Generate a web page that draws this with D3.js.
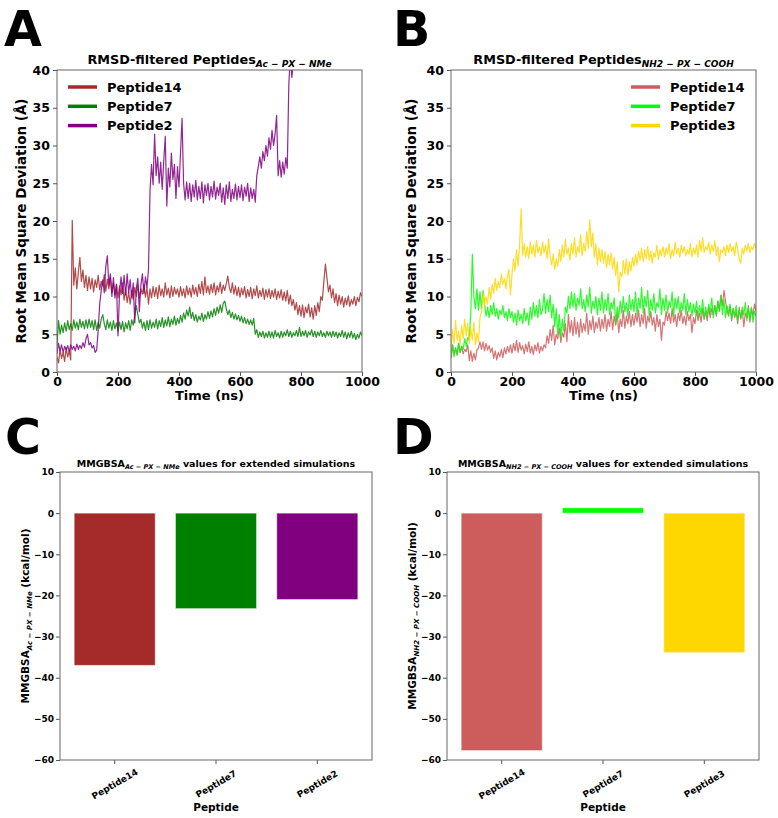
<!DOCTYPE html>
<html>
<head>
<meta charset="utf-8">
<script src="https://cdn.jsdelivr.net/npm/d3@7"></script>
<style>
body { margin: 0; background: #fff; }
text { font-family: "DejaVu Sans", sans-serif; font-weight: bold; fill: #000; }
</style>
</head>
<body>
<svg id="fig" width="778" height="818"></svg>
<script>
// ---- values ----
var timeStep = 5; // ns between kept frames, series start at 0 ns
var timeTicks = [0, 200, 400, 600, 800, 1000];
var rmsdTicks = [0, 5, 10, 15, 20, 25, 30, 35, 40];
var energyTicks = [10, 0, -10, -20, -30, -40, -50, -60];

// panel A (Ac-PX-NMe)
var rmsdA14 = [
  2.0, 1.2, 3.0, 1.8, 2.6, 1.4, 3.2, 2.0, 2.8, 1.6, 20.1, 11.5, 13.8, 11.0, 13.2, 15.2, 12.0, 13.5, 11.2, 12.8,
  10.8, 12.6, 11.0, 12.4, 10.6, 12.2, 11.2, 12.8, 10.9, 12.0, 11.4, 12.9, 10.7, 12.3, 11.0, 12.5, 10.5, 11.8, 10.2, 11.6,
  9.8, 11.4, 10.2, 11.8, 9.5, 11.0, 9.2, 10.6, 9.0, 10.8, 9.6, 11.2, 10.0, 11.5, 9.8, 11.0, 10.3, 11.6, 9.9, 11.2,
  9.0, 11.0, 9.8, 11.3, 10.0, 11.2, 9.7, 11.5, 10.1, 11.0, 9.9, 11.8, 10.2, 11.1, 9.8, 11.4, 10.0, 11.2, 10.3, 11.0,
  9.9, 11.3, 10.1, 11.0, 9.8, 11.4, 10.2, 11.1, 9.9, 11.5, 10.3, 11.2, 10.0, 11.6, 10.4, 12.0, 10.2, 12.6, 10.5, 11.4,
  10.3, 11.6, 10.5, 11.8, 10.2, 11.4, 10.6, 11.9, 10.4, 11.5, 10.8, 11.7, 12.7, 11.2, 10.5, 11.8, 10.3, 11.4, 10.1, 11.2,
  9.9, 11.1, 10.2, 11.3, 9.8, 10.9, 10.0, 11.2, 9.7, 11.0, 10.1, 11.4, 9.8, 10.8, 10.0, 11.1, 9.6, 10.9, 9.9, 11.0,
  9.7, 10.8, 9.9, 11.0, 9.6, 10.7, 9.8, 10.9, 9.5, 10.6, 9.4, 10.8, 9.0, 10.2, 8.8, 9.6, 8.2, 9.2, 7.6, 8.8,
  7.4, 8.9, 7.2, 8.6, 7.8, 9.0, 7.3, 8.5, 7.0, 8.8, 7.5, 9.2, 8.0, 10.0, 9.5, 12.0, 14.3, 12.5, 10.6, 11.5,
  9.8, 11.0, 9.2, 10.4, 8.8, 10.2, 9.0, 10.0, 8.6, 9.8, 8.9, 10.1, 8.7, 9.6, 9.0, 10.0, 8.8, 9.9, 9.3, 10.5, 10.0
];
var rmsdA7 = [
  3.5, 6.8, 5.0, 6.2, 5.2, 6.5, 5.4, 6.8, 5.6, 6.4, 5.5, 6.9, 5.8, 6.6, 5.6, 7.0, 5.9, 6.7, 5.7, 6.9,
  5.8, 7.0, 5.9, 6.8, 5.6, 6.9, 5.5, 6.6, 5.8, 7.0, 7.6, 6.4, 5.6, 6.9, 5.8, 6.6, 5.5, 6.8, 5.7, 6.5,
  5.4, 6.6, 5.6, 6.7, 5.3, 6.5, 5.7, 6.8, 5.5, 6.9, 6.2, 7.5, 8.8, 7.6, 6.5, 7.0, 5.8, 6.6, 5.5, 6.8,
  5.6, 6.9, 5.8, 6.6, 5.9, 7.0, 5.7, 6.8, 6.0, 7.2, 5.9, 6.9, 6.1, 7.3, 6.0, 7.0, 6.3, 7.4, 6.2, 7.1,
  6.4, 7.5, 6.6, 7.8, 7.0, 8.2, 7.4, 8.6, 7.1, 7.9, 6.8, 7.6, 6.6, 7.4, 6.9, 7.8, 6.7, 7.6, 7.0, 8.0,
  7.1, 8.1, 7.3, 8.4, 7.5, 8.6, 7.8, 8.9, 7.9, 9.1, 9.4, 8.4, 7.6, 8.2, 7.2, 7.9, 7.0, 7.7, 6.9, 7.5,
  6.7, 7.4, 6.5, 7.2, 6.4, 7.0, 6.3, 6.9, 6.2, 7.1, 5.0, 5.6, 4.6, 5.3, 4.7, 5.4, 4.5, 5.2, 4.6, 5.4,
  4.6, 5.3, 4.5, 5.5, 4.7, 5.2, 4.5, 5.4, 4.6, 5.3, 4.8, 5.6, 4.7, 5.4, 4.6, 5.2, 4.8, 5.5, 4.7, 5.9,
  4.7, 5.4, 4.8, 5.5, 4.6, 5.3, 4.9, 5.6, 4.7, 5.4, 4.6, 5.3, 4.8, 5.5, 4.7, 5.2, 4.6, 5.4, 4.8, 5.3,
  4.6, 5.4, 4.7, 5.3, 4.5, 5.2, 4.7, 5.5, 4.6, 5.3, 4.4, 5.2, 4.6, 5.4, 4.5, 5.1, 4.3, 5.0, 4.5, 5.3, 4.8
];
// Peptide2 trace stops at ~775 ns after leaving the top of the axis
var rmsdA2 = [
  2.4, 3.8, 2.8, 3.6, 2.6, 3.4, 2.9, 3.5, 2.7, 3.6, 3.0, 3.4, 2.8, 3.7, 3.0, 3.5, 3.1, 3.9, 3.3, 4.4,
  5.0, 3.6, 3.9, 3.2, 3.5, 2.6, 2.9, 5.5, 9.0, 10.8, 12.2, 10.5, 14.0, 15.4, 11.5, 13.0, 10.0, 12.5, 9.8, 11.6,
  4.8, 10.5, 12.6, 10.4, 12.8, 10.2, 13.0, 10.5, 12.2, 9.8, 11.8, 6.5, 11.0, 12.4, 8.0, 11.5, 13.0, 10.4, 12.6, 11.2,
  13.6, 24.0, 27.5, 24.8, 31.5, 26.0, 28.5, 25.0, 27.8, 24.2, 28.0, 31.2, 22.0, 27.0, 24.5, 29.0, 25.5, 27.5, 23.0, 27.2,
  24.5, 29.0, 33.6, 25.0, 22.8, 25.2, 23.0, 25.0, 22.6, 24.8, 23.2, 25.4, 22.8, 24.6, 23.0, 25.2, 22.4, 24.8, 23.4, 25.0,
  22.8, 24.6, 23.2, 25.3, 22.9, 24.5, 23.4, 25.0, 22.5, 24.4, 22.2, 24.8, 23.0, 25.2, 22.6, 24.2, 23.0, 24.9, 22.8, 24.6,
  23.1, 24.8, 22.7, 24.5, 23.3, 25.0, 22.6, 24.4, 23.0, 24.2, 22.5, 26.0, 27.2, 28.5, 27.0, 29.2, 28.0, 30.0, 28.6, 31.0,
  29.5, 32.0, 30.0, 31.5, 34.0, 26.0, 28.0, 25.8, 27.8, 26.2, 28.4, 27.0, 38.0, 42.0, 39.0, 41.0
];

// panel B (NH2-PX-COOH)
var rmsdB14 = [
  1.8, 3.6, 2.4, 3.2, 2.2, 3.8, 2.6, 3.4, 2.4, 3.0, 2.7, 3.6, 1.5, 2.8, 1.4, 2.5, 1.6, 2.9, 3.2, 4.0,
  3.0, 4.0, 2.8, 3.8, 2.9, 3.5, 2.6, 3.2, 1.8, 2.8, 1.6, 2.6, 2.0, 3.0, 1.9, 3.2, 2.4, 3.4, 2.6, 3.6,
  2.5, 3.8, 2.8, 4.2, 2.6, 3.9, 2.9, 3.5, 2.4, 3.7, 2.7, 4.0, 2.5, 3.4, 2.3, 3.6, 2.8, 3.9, 2.5, 3.4,
  2.8, 3.6, 3.2, 4.8, 3.8, 5.6, 4.2, 6.2, 3.6, 5.0, 4.4, 5.8, 3.9, 5.2, 4.6, 6.4, 4.0, 7.6, 5.2, 6.8,
  4.8, 7.2, 5.0, 6.6, 4.6, 7.0, 5.2, 6.4, 5.4, 7.8, 5.0, 6.8, 5.6, 7.4, 5.2, 6.6, 5.8, 7.2, 5.4, 7.0,
  5.8, 7.6, 5.4, 7.0, 6.0, 8.0, 5.6, 7.4, 6.2, 7.8, 5.2, 7.0, 6.0, 8.2, 5.8, 7.4, 6.4, 8.0, 6.0, 7.6,
  6.2, 7.8, 6.6, 8.2, 6.0, 7.6, 6.4, 8.4, 5.8, 7.4, 6.6, 8.0, 6.2, 7.2, 5.4, 7.6, 6.0, 7.0, 4.2, 6.6,
  6.2, 8.0, 6.8, 7.8, 6.4, 8.4, 6.6, 7.6, 6.0, 7.8, 6.8, 8.2, 6.4, 7.4, 6.2, 8.0, 6.8, 7.6, 5.2, 7.2,
  6.4, 8.2, 6.8, 7.8, 6.6, 8.4, 7.0, 8.0, 6.8, 8.6, 7.2, 8.4, 7.6, 8.8, 7.4, 9.4, 8.2, 10.2, 8.8, 10.8,
  9.4, 8.2, 7.4, 8.8, 6.8, 8.4, 7.2, 8.0, 6.4, 8.6, 7.0, 8.2, 6.0, 7.8, 7.2, 8.8, 6.6, 8.4, 7.4, 9.0, 8.0
];
var rmsdB7 = [
  2.2, 3.6, 2.0, 3.2, 2.4, 3.8, 2.6, 3.4, 3.0, 4.4, 3.4, 4.6, 4.2, 8.0, 15.6, 10.0, 8.4, 11.0, 8.2, 10.6,
  8.4, 10.8, 9.0, 7.4, 8.6, 7.2, 8.8, 7.6, 9.2, 7.4, 8.4, 7.0, 8.2, 7.6, 8.8, 7.2, 8.0, 6.8, 8.4, 7.2,
  8.0, 6.6, 7.8, 6.2, 8.2, 6.8, 7.6, 6.4, 8.4, 6.8, 7.8, 6.2, 8.6, 7.0, 9.2, 7.4, 8.8, 7.2, 9.6, 7.6,
  8.2, 10.4, 7.8, 9.6, 8.0, 10.2, 7.2, 9.0, 6.0, 8.4, 5.0, 7.6, 4.6, 7.0, 5.4, 8.6, 7.8, 10.0, 8.4, 10.6,
  8.6, 10.4, 8.2, 9.8, 8.8, 11.0, 8.4, 9.6, 8.0, 10.2, 8.6, 11.2, 7.8, 9.4, 8.4, 10.0, 7.6, 9.8, 8.2, 10.6,
  7.8, 9.6, 8.2, 10.4, 7.6, 9.2, 8.4, 9.8, 6.4, 8.6, 7.2, 9.4, 7.8, 10.0, 8.0, 9.2, 7.4, 10.2, 8.2, 9.6,
  8.0, 10.6, 7.6, 9.8, 8.4, 11.2, 7.8, 10.0, 8.6, 10.8, 7.4, 9.6, 8.2, 10.4, 7.8, 9.2, 8.6, 11.0, 7.6, 9.8,
  8.2, 10.2, 7.8, 9.4, 8.6, 10.6, 7.4, 9.8, 8.4, 10.0, 7.8, 9.2, 8.2, 10.4, 7.6, 9.6, 8.0, 9.2, 7.4, 9.0,
  7.8, 9.4, 7.2, 8.8, 7.6, 9.6, 7.0, 8.6, 7.4, 9.0, 7.8, 9.8, 7.2, 8.8, 7.6, 9.4, 8.0, 10.2, 7.6, 9.6,
  7.2, 8.8, 7.6, 9.0, 7.0, 8.4, 7.4, 8.8, 6.8, 8.2, 7.2, 8.6, 7.6, 9.2, 6.8, 8.4, 7.0, 8.6, 6.6, 8.0, 7.4
];
var rmsdB3 = [
  3.2, 5.6, 3.8, 6.8, 4.2, 5.4, 3.6, 6.2, 4.4, 7.0, 4.8, 6.4, 3.8, 5.8, 4.2, 6.6, 3.6, 5.2, 4.0, 7.2,
  8.0, 10.4, 8.8, 10.0, 9.0, 11.2, 9.6, 11.6, 10.4, 12.4, 10.8, 12.0, 11.2, 13.0, 11.6, 12.4, 11.0, 12.8, 13.6, 10.2,
  13.0, 15.0, 13.4, 16.2, 14.0, 16.8, 21.6, 15.4, 17.0, 15.2, 16.6, 15.0, 17.2, 15.6, 16.8, 15.2, 17.4, 15.8, 16.6, 15.4,
  17.2, 15.8, 16.8, 15.0, 17.6, 15.4, 14.2, 15.6, 13.6, 15.0, 14.0, 16.2, 14.6, 16.8, 15.2, 17.6, 15.6, 16.4, 14.8, 17.0,
  15.6, 17.8, 15.2, 16.6, 15.8, 18.2, 15.4, 17.0, 16.0, 18.6, 16.4, 20.2, 16.6, 18.4, 15.2, 17.0, 14.2, 16.4, 14.6, 16.2,
  14.4, 16.0, 13.8, 15.6, 14.2, 15.8, 13.6, 15.2, 12.8, 14.6, 10.6, 13.2, 12.6, 14.8, 13.0, 15.0, 12.8, 14.6, 13.4, 15.2,
  14.0, 15.6, 14.2, 16.0, 14.8, 16.4, 14.6, 16.2, 15.0, 16.6, 14.8, 16.0, 14.4, 15.8, 15.2, 16.8, 14.9, 16.2, 15.4, 16.6,
  15.2, 16.4, 15.6, 17.0, 15.0, 16.2, 15.4, 17.2, 15.6, 16.4, 15.2, 16.8, 15.8, 16.6, 15.4, 16.2, 15.6, 17.0, 15.2, 16.4,
  15.6, 16.8, 15.2, 17.4, 16.0, 17.8, 15.8, 16.6, 16.2, 17.2, 15.6, 16.8, 16.0, 17.4, 15.4, 16.6, 14.6, 16.2, 15.8, 16.6,
  15.4, 16.8, 15.8, 17.0, 16.0, 16.6, 15.4, 17.2, 16.2, 15.0, 14.4, 16.4, 15.6, 16.8, 16.0, 17.0, 15.8, 16.6, 16.2, 17.0, 16.4
];

// panels C and D (kcal/mol)
var peptidesC = ["Peptide14", "Peptide7", "Peptide2"];
var mmgbsaC = [-37.0, -23.2, -21.0];
var peptidesD = ["Peptide14", "Peptide7", "Peptide3"];
var mmgbsaD = [-57.7, 1.3, -33.9];

var coloursA = ["#a52a2a", "#008000", "#800080"];
var coloursB = ["#cd5c5c", "#00ff00", "#ffd700"];

var svg = d3.select("#fig");

// big panel letters
[["A", 4, 46], ["B", 393, 46], ["C", 5, 454], ["D", 393, 454]].forEach(function(p) {
  svg.append("text").attr("x", p[1]).attr("y", p[2])
    .style("font-size", "49px").text(p[0]);
});

// text with a small italic subscript in the middle
function subText(sel, before, sub, after, size, subSize) {
  sel.append("tspan").style("font-size", size + "px").text(before);
  sel.append("tspan").style("font-size", subSize + "px").style("font-style", "italic")
    .attr("dy", size * 0.25).text(sub);
  if (after) {
    sel.append("tspan").style("font-size", size + "px").attr("dy", -size * 0.25).text(after);
  }
}

function drawRmsd(box, titleSub, series, names, colours, legendX, ylabX) {
  var x = d3.scaleLinear().domain([0, 1000]).range([box.x0, box.x1]);
  var y = d3.scaleLinear().domain([0, 40]).range([box.y1, box.y0]);
  var g = svg.append("g");
  var clipId = "clip" + Math.round(box.x0);

  g.append("clipPath").attr("id", clipId).append("rect")
    .attr("x", box.x0).attr("y", box.y0)
    .attr("width", box.x1 - box.x0).attr("height", box.y1 - box.y0);

  var line = d3.line()
    .x(function(d, i) { return x(i * timeStep); })
    .y(function(d) { return y(d); });

  var lines = g.append("g").attr("clip-path", "url(#" + clipId + ")");
  series.forEach(function(s, k) {
    lines.append("path").datum(s)
      .attr("d", line)
      .attr("fill", "none")
      .attr("stroke", colours[k])
      .attr("stroke-width", 1.2)
      .attr("stroke-opacity", 0.85)
      .attr("stroke-linejoin", "round");
  });

  // axes
  var xAxis = g.append("g").attr("transform", "translate(0," + box.y1 + ")")
    .call(d3.axisBottom(x).tickValues(timeTicks).tickFormat(d3.format("d")).tickSize(4).tickPadding(1));
  var yAxis = g.append("g").attr("transform", "translate(" + box.x0 + ",0)")
    .call(d3.axisLeft(y).tickValues(rmsdTicks).tickSize(4).tickPadding(3));
  [xAxis, yAxis].forEach(function(a) {
    a.select(".domain").remove();
    a.selectAll(".tick line").attr("stroke", "#555");
    a.selectAll(".tick text").style("font-size", "12.5px").style("font-family", "DejaVu Sans").style("font-weight", "bold");
  });

  g.append("rect")
    .attr("x", box.x0).attr("y", box.y0)
    .attr("width", box.x1 - box.x0).attr("height", box.y1 - box.y0)
    .attr("fill", "none").attr("stroke", "#666").attr("stroke-width", 1);

  // title
  var t = g.append("text").attr("x", (box.x0 + box.x1) / 2).attr("y", box.y0 - 6)
    .attr("text-anchor", "middle");
  subText(t, "RMSD-filtered Peptides", titleSub, null, 12.8, 9);

  g.append("text").attr("x", (box.x0 + box.x1) / 2).attr("y", box.y1 + 28)
    .attr("text-anchor", "middle").style("font-size", "13px").text("Time (ns)");

  g.append("text")
    .attr("transform", "translate(" + ylabX + "," + (box.y0 + box.y1) / 2 + ") rotate(-90)")
    .attr("text-anchor", "middle").style("font-size", "13.5px")
    .text("Root Mean Square Deviation (\u00c5)");

  // legend
  names.forEach(function(n, k) {
    var ly = box.y0 + 17 + k * 19.3;
    g.append("line").attr("x1", legendX).attr("x2", legendX + 29)
      .attr("y1", ly).attr("y2", ly)
      .attr("stroke", colours[k]).attr("stroke-width", 3.5);
    g.append("text").attr("x", legendX + 39).attr("y", ly + 4.5)
      .style("font-size", "13px").text(n);
  });
}

function drawBars(box, cats, vals, colours, sub, ylabX) {
  var x = d3.scaleBand().domain(cats).range([box.x0, box.x1])
    .paddingInner(0.2).paddingOuter(0.14);
  var y = d3.scaleLinear().domain([-60, 10]).range([box.y1, box.y0]);
  var g = svg.append("g");

  g.selectAll("rect.bar").data(vals).enter().append("rect")
    .attr("class", "bar")
    .attr("x", function(d, i) { return x(cats[i]); })
    .attr("width", x.bandwidth())
    .attr("y", function(d) { return y(Math.max(0, d)); })
    .attr("height", function(d) { return Math.abs(y(d) - y(0)); })
    .attr("fill", function(d, i) { return colours[i]; })
    .attr("stroke", "#fff").attr("stroke-opacity", 0.45).attr("stroke-width", 1);

  var xAxis = g.append("g").attr("transform", "translate(0," + box.y1 + ")")
    .call(d3.axisBottom(x).tickSize(4).tickFormat(""));
  var yAxis = g.append("g").attr("transform", "translate(" + box.x0 + ",0)")
    .call(d3.axisLeft(y).tickValues(energyTicks).tickSize(4).tickPadding(2));
  [xAxis, yAxis].forEach(function(a) {
    a.select(".domain").remove();
    a.selectAll(".tick line").attr("stroke", "#555");
  });
  yAxis.selectAll(".tick text").style("font-size", "9px").style("font-family", "DejaVu Sans").style("font-weight", "bold");

  // rotated category labels
  cats.forEach(function(c) {
    g.append("text")
      .attr("transform", "translate(" + (x(c) + x.bandwidth() / 2) + "," + (box.y1 + 24) + ") rotate(-30)")
      .attr("text-anchor", "middle").attr("dy", "0.35em")
      .style("font-size", "9px").text(c);
  });

  g.append("rect")
    .attr("x", box.x0).attr("y", box.y0)
    .attr("width", box.x1 - box.x0).attr("height", box.y1 - box.y0)
    .attr("fill", "none").attr("stroke", "#666").attr("stroke-width", 1);

  var t = g.append("text").attr("x", (box.x0 + box.x1) / 2).attr("y", box.y0 - 5)
    .attr("text-anchor", "middle");
  subText(t, "MMGBSA", sub, " values for extended simulations", 9.5, 6.5);

  g.append("text").attr("x", (box.x0 + box.x1) / 2).attr("y", box.y1 + 51)
    .attr("text-anchor", "middle").style("font-size", "10.5px").text("Peptide");

  var yl = g.append("text")
    .attr("transform", "translate(" + ylabX + "," + (box.y0 + box.y1) / 2 + ") rotate(-90)")
    .attr("text-anchor", "middle");
  subText(yl, "MMGBSA", sub, " (kcal/mol)", 10.5, 7);
}

drawRmsd({x0: 57, x1: 362, y0: 70, y1: 372}, "Ac \u2212 PX \u2212 NMe",
  [rmsdA14, rmsdA7, rmsdA2], ["Peptide14", "Peptide7", "Peptide2"], coloursA, 68, 26);
drawRmsd({x0: 451, x1: 756, y0: 70, y1: 372}, "NH2 \u2212 PX \u2212 COOH",
  [rmsdB14, rmsdB7, rmsdB3], ["Peptide14", "Peptide7", "Peptide3"], coloursB, 631, 416);

drawBars({x0: 60, x1: 372, y0: 472, y1: 760}, peptidesC, mmgbsaC, coloursA, "Ac \u2212 PX \u2212 NMe", 29);
drawBars({x0: 447, x1: 759, y0: 472, y1: 760}, peptidesD, mmgbsaD, coloursB, "NH2 \u2212 PX \u2212 COOH", 416);
</script>
</body>
</html>
